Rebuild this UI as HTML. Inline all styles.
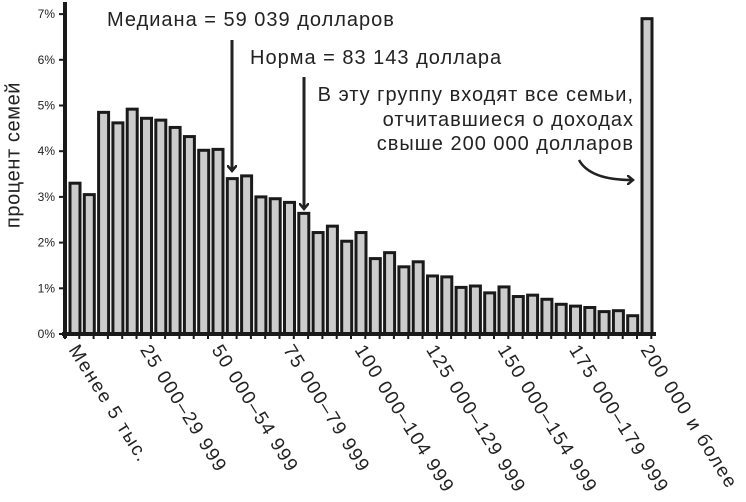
<!DOCTYPE html>
<html><head><meta charset="utf-8"><style>
body{margin:0;background:#fff}
svg{display:block;font-family:"Liberation Sans","DejaVu Sans",sans-serif}
</style></head><body>
<svg id="c" width="746" height="502" viewBox="0 0 746 502">
<defs><marker id="ah" markerWidth="10" markerHeight="10" refX="5" refY="5" orient="auto" markerUnits="userSpaceOnUse"><path d="M0,0 L6,5 L0,10" fill="none" stroke="#222" stroke-width="2.5"/></marker></defs>
<g id="bars"></g>
<g id="axes"></g>
<text x="14" y="155" transform="rotate(-90 14 155)" text-anchor="middle" font-size="20" letter-spacing="0.6" fill="#222" dominant-baseline="middle">процент семей</text>
<text x="107" y="26" font-size="20" letter-spacing="1" fill="#222">Медиана = 59 039 долларов</text>
<line x1="232" y1="40" x2="232" y2="170" stroke="#222" stroke-width="3" marker-end="url(#ah)"/>
<text x="250" y="64" font-size="20" letter-spacing="1" fill="#222">Норма = 83 143 доллара</text>
<line x1="304" y1="77" x2="304" y2="208" stroke="#222" stroke-width="3" marker-end="url(#ah)"/>
<g font-size="20" letter-spacing="1" fill="#222" text-anchor="end">
<text x="634" y="101">В эту группу входят все семьи,</text>
<text x="634" y="126">отчитавшиеся о доходах</text>
<text x="634" y="150">свыше 200 000 долларов</text>
</g>
<path d="M579,160 Q590,180 632,180" fill="none" stroke="#222" stroke-width="2.5" marker-end="url(#ah)"/>
</svg>
<script>
const values=[3.3,3.05,4.85,4.62,4.92,4.72,4.68,4.52,4.32,4.02,4.04,3.4,3.46,3.0,2.96,2.88,2.64,2.22,2.36,2.03,2.22,1.65,1.78,1.47,1.58,1.27,1.25,1.02,1.05,0.9,1.03,0.82,0.85,0.76,0.65,0.61,0.58,0.49,0.51,0.4,6.9];
const yTicks=[0,1,2,3,4,5,6,7];
const xLabels=["Менее 5 тыс.","25 000–29 999","50 000–54 999","75 000–79 999","100 000–104 999","125 000–129 999","150 000–154 999","175 000–179 999","200 000 и более"];
const xLabelIdx=[0,5,10,15,20,25,30,35,40];
const NS="http://www.w3.org/2000/svg";
const x0=65,pitch=14.3,bw=10,y0=334,pp=45.7;
const X=i=>x0+5+i*pitch, Y=v=>y0-v*pp;
const bars=document.getElementById('bars'),axes=document.getElementById('axes');
function mk(t,a,p){const e=document.createElementNS(NS,t);for(const k in a)e.setAttribute(k,a[k]);p.appendChild(e);return e;}
values.forEach((v,i)=>{const r=mk('rect',{x:X(i),y:Y(v),width:bw,height:y0-Y(v),fill:'#ccc',stroke:'#1a1a1a','stroke-width':3},bars);

});
const ya=mk('line',{x1:x0,y1:2,x2:x0,y2:338,stroke:'#1a1a1a','stroke-width':4},axes);


const xa=mk('line',{x1:x0-3,y1:y0,x2:X(40)+bw+4,y2:y0,stroke:'#1a1a1a','stroke-width':4},axes);


for(let i=0;i<=41;i++){mk('line',{x1:x0+i*pitch,y1:y0,x2:x0+i*pitch,y2:y0+5,stroke:'#1a1a1a','stroke-width':2},axes);}
yTicks.forEach(t=>{mk('line',{x1:x0-6,y1:Y(t),x2:x0,y2:Y(t),stroke:'#1a1a1a','stroke-width':2},axes);
const tx=mk('text',{x:x0-10,y:Y(t)+4,'text-anchor':'end','font-size':12,fill:'#222'},axes);tx.textContent=t+'%';

});
xLabels.forEach((l,k)=>{const x=X(xLabelIdx[k])+9,y=343;
const tx=mk('text',{x:x,y:y,transform:`rotate(58 ${x} ${y})`,'font-size':19,'letter-spacing':1.5,fill:'#222','dominant-baseline':'hanging'},axes);tx.textContent=l;

});
</script>
</body></html>
